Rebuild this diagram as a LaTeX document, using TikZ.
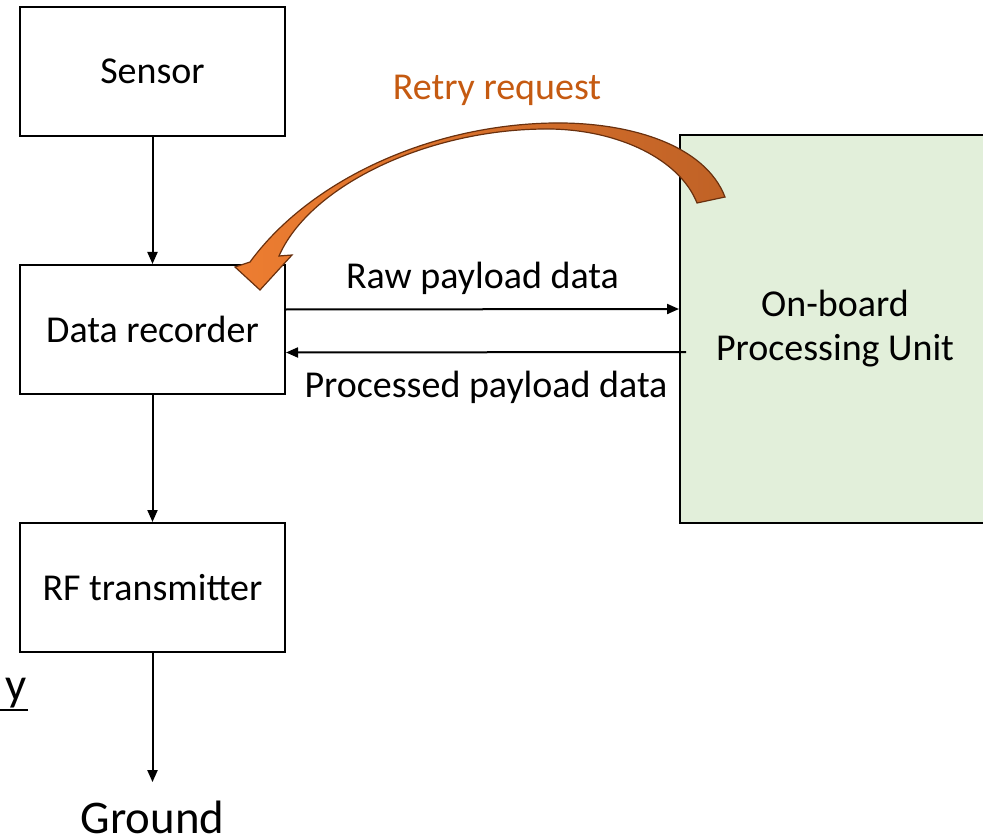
\documentclass[tikz,border=0pt]{standalone}
\usepackage{fontspec}
\setmainfont{Carlito}
\usetikzlibrary{arrows.meta, calc}
\definecolor{boxgreen}{RGB}{226,239,218}
\definecolor{retryorange}{RGB}{197,90,17}
\definecolor{arrowlight}{RGB}{237,125,49}
\definecolor{arrowdark}{RGB}{192,98,38}
\definecolor{arrowedge}{RGB}{105,48,14}
\tikzstyle{block} = [rectangle, minimum width=132.5pt, minimum height=64.5pt, text centered, draw=black, line width=1pt, inner sep=0pt]
\tikzstyle{conn} = [-{Triangle[length=6pt,width=5pt]}, line width=1pt]
\tikzstyle{big} = [font=\fontsize{23.4pt}{28pt}\selectfont, inner sep=0pt]

\begin{document}
\begin{tikzpicture}[x=0.5pt, y=-0.5pt, font=\fontsize{19pt}{22pt}\selectfont]
		\useasboundingbox (0,0) rectangle (983,839);
		\clip (0,0) rectangle (983,839);

		\node (sensor) [block] at (152.5,71.5) {Sensor};
		\node (recorder) [block] at ($(sensor) + (0,258)$) {Data recorder};
		\node (rf) [block] at ($(recorder) + (0,258)$) {RF transmitter};
		\node (obpu) [block, fill=boxgreen, minimum width=155pt, minimum height=194pt, align=center] at (835,329) {On-board\\Processing Unit};
		\node (ground) [big, anchor=base] at ($(rf.south) + (0,180)$) {Ground};
		\node (cut) [big, anchor=base east] at (27,700) {y};
		\draw[line width=1pt] ($(cut.base east) + (1,9.5)$) -- ($(cut.base west) + (-20,9.5)$);

		\draw[conn] (sensor) -- (recorder);
		\draw[conn] (recorder) -- (rf);
		\draw[conn] (rf) -- ([yshift=9pt]ground.north);

		\draw[conn] ($(recorder.east) + (0,-20)$) -- ($(obpu.west) + (0,-20)$)
			node[midway, above=3.5pt] (raw) {Raw payload data};
		\draw[conn] ($(obpu.west) + (7,23)$) -- ($(recorder.east) + (0,23)$)
			node[midway, below=5.5pt] (proc) {Processed payload data};

		% retry arrow, bent from the unit back over to the recorder
		\node (retry) [text=retryorange] at (497,90) {Retry request};
		\shade[left color=arrowlight, right color=arrowdark, draw=arrowedge, line width=0.6pt]
			(725,197) .. controls (705,145) and (630,122) .. (553,123)
			.. controls (430,125) and (310,180) .. (250,262)
			-- (235,267) -- (260,290) -- (292,255) -- (279,256)
			.. controls (310,185) and (430,128) .. (550,129)
			.. controls (620,130) and (680,160) .. (697,203) -- cycle;
	\end{tikzpicture}
\end{document}
